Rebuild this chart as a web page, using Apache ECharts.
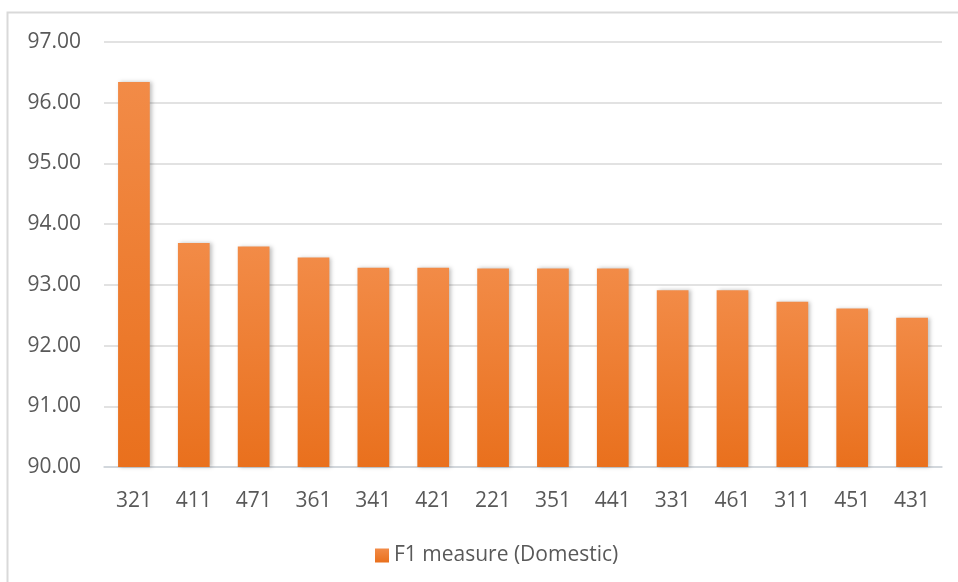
<!DOCTYPE html>
<html>
<head>
<meta charset="utf-8">
<script src="https://cdn.jsdelivr.net/npm/echarts@6/dist/echarts.min.js"></script>
<style>
  html, body { margin: 0; padding: 0; background: #ffffff; }
  #chart { width: 958px; height: 582px; }
</style>
</head>
<body>
<div id="chart"></div>
<script>
// Model configurations, sorted by score
const categories = ['321', '411', '471', '361', '341', '421', '221', '351', '441', '331', '461', '311', '451', '431'];
// F1 measure per configuration (Domestic)
const f1Domestic = [96.34, 93.69, 93.63, 93.45, 93.28, 93.28, 93.27, 93.27, 93.27, 92.91, 92.91, 92.72, 92.61, 92.46];
const seriesName = 'F1 measure (Domestic)';
const yMin = 90, yMax = 97, yStep = 1;

const textColor = '#595959';
const fontFamily = '"Open Sans", "Noto Sans", sans-serif';

const chart = echarts.init(document.getElementById('chart'), null, { renderer: 'canvas' });

chart.setOption({
  backgroundColor: '#ffffff',
  animation: false,
  graphic: [{
    type: 'rect',
    silent: true,
    shape: { x: 7.5, y: 12.5, width: 1000, height: 600 },
    style: { fill: 'none', stroke: '#d9d9d9', lineWidth: 2 }
  }],
  grid: { left: 104, right: 16, top: 42, bottom: 115 },
  legend: {
    data: [seriesName],
    left: 370,
    top: 540,
    itemWidth: 14,
    itemHeight: 14,
    itemGap: 4,
    icon: 'rect',
    textStyle: { color: textColor, fontSize: 21, fontFamily: fontFamily }
  },
  xAxis: {
    type: 'category',
    data: categories,
    axisLine: { lineStyle: { color: '#cdd3da', width: 1.5 } },
    axisTick: { show: false },
    axisLabel: { color: textColor, fontSize: 21, fontFamily: fontFamily, margin: 24 }
  },
  yAxis: {
    type: 'value',
    min: yMin,
    max: yMax,
    interval: yStep,
    axisLine: { show: false },
    axisTick: { show: false },
    splitLine: { lineStyle: { color: '#d9d9d9', width: 1.5 } },
    axisLabel: {
      color: textColor, fontSize: 21, fontFamily: fontFamily, margin: 23,
      formatter: v => v.toFixed(2)
    }
  },
  series: [{
    name: seriesName,
    type: 'bar',
    data: f1Domestic,
    barWidth: '53%',
    itemStyle: {
      color: new echarts.graphic.LinearGradient(0, 0, 0, 1, [
        { offset: 0, color: '#f28b47' },
        { offset: 1, color: '#e9701d' }
      ]),
      shadowColor: 'rgba(0,0,0,0.25)',
      shadowBlur: 4,
      shadowOffsetX: 2,
      shadowOffsetY: 0
    }
  }]
});
</script>
</body>
</html>
